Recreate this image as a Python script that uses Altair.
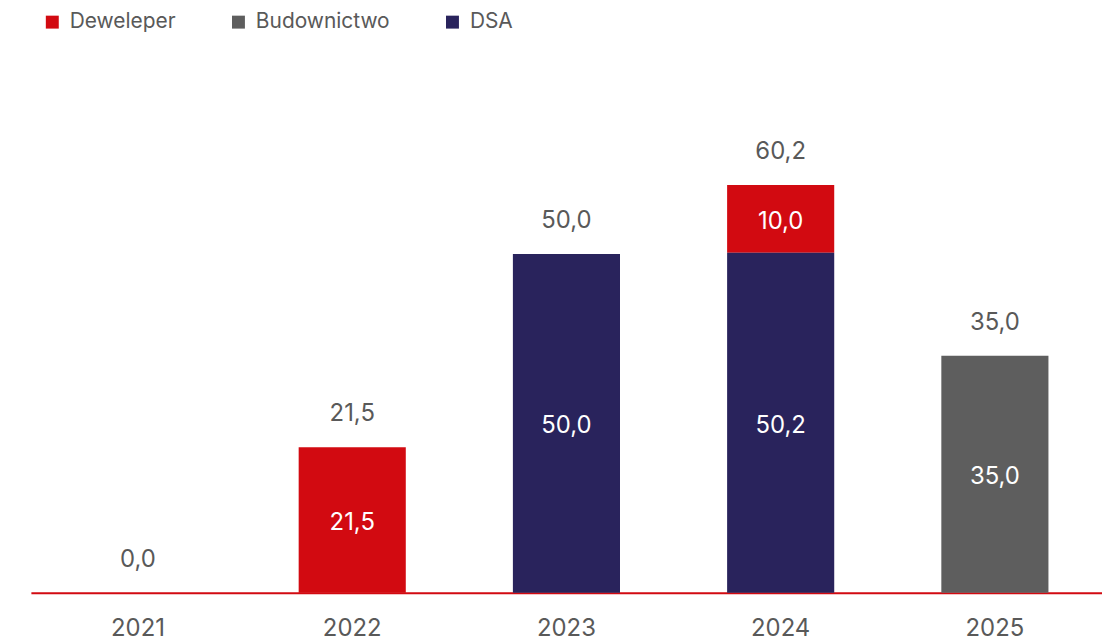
import altair as alt
import pandas as pd

years = ["2021", "2022", "2023", "2024", "2025"]
series = ["Deweleper", "Budownictwo", "DSA"]
deweleper = [0.0, 21.5, 0.0, 10.0, 0.0]
budownictwo = [0.0, 0.0, 0.0, 0.0, 35.0]
dsa = [0.0, 0.0, 50.0, 50.2, 0.0]
colors = ["#D20A11", "#5E5E5E", "#29235C"]
stack_order = {"DSA": 0, "Budownictwo": 1, "Deweleper": 2}

FONT = "Inter"
GREY = "#595959"


def fmt(v):
    return f"{v:.1f}".replace(".", ",")


rows = []
for i, yr in enumerate(years):
    for s, vals in zip(series, [deweleper, budownictwo, dsa]):
        rows.append(dict(year=yr, series=s, value=vals[i], order=stack_order[s], label=fmt(vals[i])))
df = pd.DataFrame(rows)

tot = [deweleper[i] + budownictwo[i] + dsa[i] for i in range(len(years))]
tdf = pd.DataFrame({"year": years, "total": tot, "label": [fmt(t) for t in tot]})

yscale = alt.Scale(domain=[0, 72.6], nice=False, zero=True)
xenc = alt.X(
    "year:N",
    scale=alt.Scale(domain=years, paddingInner=0.5, paddingOuter=0.25),
    axis=alt.Axis(
        title=None, labelAngle=0, domainColor="#D20A11", domainWidth=2, ticks=False,
        labelFontSize=24, labelColor=GREY, labelPadding=24, labelFont=FONT, grid=False,
    ),
)

bars = alt.Chart(df).transform_filter("datum.value > 0").mark_bar().encode(
    x=xenc,
    y=alt.Y("value:Q", stack="zero", scale=yscale, axis=None),
    color=alt.Color(
        "series:N",
        scale=alt.Scale(domain=series, range=colors),
        legend=alt.Legend(
            orient="none", legendX=11, legendY=-90, direction="horizontal", title=None,
            symbolType="square", symbolSize=169, symbolStrokeWidth=0,
            labelFontSize=21, labelColor=GREY, labelFont=FONT,
            columnPadding=52, labelOffset=7,
        ),
    ),
    order=alt.Order("order:Q", sort="ascending"),
)

inside = (
    alt.Chart(df)
    .transform_filter("datum.value > 0")
    .transform_stack(stack="value", as_=["v0", "v1"], groupby=["year"], sort=[alt.SortField("order", order="ascending")])
    .transform_calculate(mid="(datum.v0 + datum.v1) / 2")
    .mark_text(color="white", fontSize=24, font=FONT, baseline="middle", dy=3)
    .encode(x=alt.X("year:N"), y=alt.Y("mid:Q", scale=yscale), text="label:N")
)

totals = alt.Chart(tdf).mark_text(color=GREY, fontSize=24, font=FONT, baseline="middle", dy=-33).encode(
    x=alt.X("year:N"), y=alt.Y("total:Q", scale=yscale), text="label:N"
)

chart = (
    alt.layer(bars, inside, totals)
    .properties(
        width=1076, height=494,
        padding={"left": 23, "top": 92, "right": 0, "bottom": 49},
        autosize=alt.AutoSizeParams(type="none"),
    )
    .configure_view(stroke=None)
)

chart.save("out.html", embed_options={"renderer": "svg", "actions": False})
